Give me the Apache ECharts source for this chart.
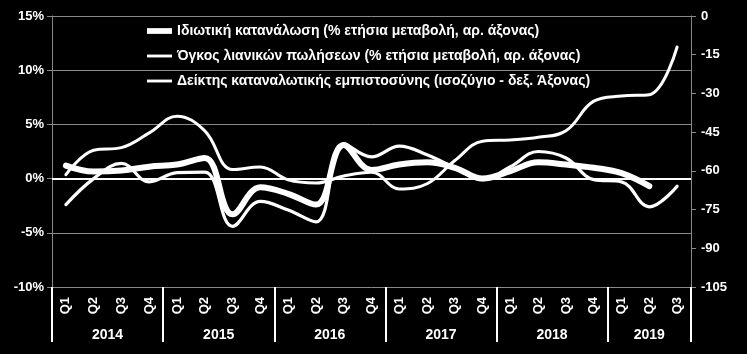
<!DOCTYPE html>
<html>
<head>
<meta charset="utf-8">
<script src="https://cdn.jsdelivr.net/npm/echarts@6/dist/echarts.min.js"></script>
<style>
  html, body { margin: 0; padding: 0; background: #000; }
  #chart { width: 747px; height: 354px; }
</style>
</head>
<body>
<div id="chart"></div>
<script>
// quarters on the x axis, years underneath
const quarterLabels = ['Q1','Q2','Q3','Q4','Q1','Q2','Q3','Q4','Q1','Q2','Q3','Q4',
                       'Q1','Q2','Q3','Q4','Q1','Q2','Q3','Q4','Q1','Q2','Q3'];
const yearLabels = ['2014','2015','2016','2017','2018','2019'];
const quartersPerYear = [4, 4, 4, 4, 4, 3];

// Ιδιωτική κατανάλωση (% ετήσια μεταβολή) - left axis
const consumption = [1.2, 0.65, 0.75, 1.1, 1.3, 1.9, -3.3, -0.8, -1.4, -2.4, 3.1, 0.8,
                     1.3, 1.5, 1.0, 0.0, 0.7, 1.5, 1.3, 1.0, 0.5, -0.7, null];
// Όγκος λιανικών πωλήσεων (% ετήσια μεταβολή) - left axis
const retailVolume = [-2.4, 0.0, 1.4, -0.3, 0.55, 0.6, -4.4, -2.1, -2.9, -4.0, 3.2, 2.0,
                      3.0, 2.2, 1.0, -0.1, 1.1, 2.5, 1.9, -0.1, -0.3, -2.6, -0.7];
// Δείκτης καταναλωτικής εμπιστοσύνης (ισοζύγιο) - right axis
const confidence = [-61.5, -52, -51, -45.3, -38.8, -44.5, -59.5, -58.5, -63.5, -64.7, -62, -60.5,
                    -67, -65, -56, -48.5, -48, -47, -44.5, -33, -31, -30.5, -12];

const leftTicks = { min: -10, max: 15, step: 5 };
const rightTicks = { min: -105, max: 0, step: 15 };

const seriesNames = [
  'Ιδιωτική κατανάλωση (% ετήσια μεταβολή, αρ. άξονας)',
  'Όγκος λιανικών πωλήσεων (% ετήσια μεταβολή, αρ. άξονας)',
  'Δείκτης καταναλωτικής εμπιστοσύνης (ισοζύγιο - δεξ. Άξονας)'
];

// year boundaries and year label centres, in quarter units
let yearBounds = [0];
let yearCentres = [];
for (let i = 0; i < quartersPerYear.length; i++) {
  let start = yearBounds[yearBounds.length - 1];
  yearCentres.push(start + quartersPerYear[i] / 2);
  yearBounds.push(start + quartersPerYear[i]);
}
const totalQuarters = yearBounds[yearBounds.length - 1];

const font = 'Arial, "Liberation Sans", sans-serif';
const grey = '#8a8a8a';
const gridBox = { left: 52, right: 56, top: 16, bottom: 67 };

let myChart = echarts.init(document.getElementById('chart'));
myChart.setOption({
  backgroundColor: '#000',
  animation: false,
  textStyle: { fontFamily: font },
  grid: [
    Object.assign({}, gridBox),
    Object.assign({}, gridBox)   // second grid only carries the year axis
  ],
  legend: {
    orient: 'vertical',
    left: 142,
    top: 19,
    itemWidth: 25,
    itemHeight: 14,
    itemGap: 11,
    data: [
      { name: seriesNames[0], icon: 'path://M0,0h26v6h-26z' },
      { name: seriesNames[1], icon: 'path://M0,0h26v3h-26z' },
      { name: seriesNames[2], icon: 'path://M0,0h26v3h-26z' }
    ],
    itemStyle: { color: '#fff' },
    textStyle: { color: '#fff', fontSize: 14, fontWeight: 'bold', fontFamily: font }
  },
  xAxis: [
    {
      type: 'category',
      gridIndex: 0,
      data: quarterLabels,
      boundaryGap: true,
      axisLine: { show: false },
      axisTick: { show: false },
      axisLabel: { rotate: 90, margin: 10, color: '#fff', fontSize: 13, fontWeight: 'bold', interval: 0 }
    },
    {
      type: 'value',
      gridIndex: 1,
      position: 'bottom',
      min: 0,
      max: totalQuarters,
      axisLine: { show: false },
      splitLine: { show: false },
      axisTick: {
        show: true,
        customValues: yearBounds,
        length: 55,
        lineStyle: { color: '#fff', width: 2 }
      },
      axisLabel: {
        customValues: yearCentres,
        margin: 41,
        color: '#fff',
        fontSize: 14,
        fontWeight: 'bold',
        formatter: function (v) {
          let idx = yearCentres.indexOf(v);
          return idx >= 0 ? yearLabels[idx] : '';
        }
      }
    }
  ],
  yAxis: [
    {
      type: 'value',
      gridIndex: 0,
      min: leftTicks.min,
      max: leftTicks.max,
      interval: leftTicks.step,
      axisLine: { show: true, lineStyle: { color: grey, width: 1 } },
      axisTick: { show: true, length: 5, lineStyle: { color: grey } },
      splitLine: { show: true, lineStyle: { color: grey, width: 1 } },
      axisLabel: { formatter: '{value}%', color: '#fff', fontSize: 13, fontWeight: 'bold', margin: 8 }
    },
    {
      type: 'value',
      gridIndex: 0,
      position: 'right',
      min: rightTicks.min,
      max: rightTicks.max,
      interval: rightTicks.step,
      axisLine: { show: true, lineStyle: { color: grey, width: 1 } },
      axisTick: { show: true, length: 5, lineStyle: { color: grey } },
      splitLine: { show: false },
      axisLabel: { color: '#fff', fontSize: 13, fontWeight: 'bold', margin: 10 }
    },
    {
      type: 'value',
      gridIndex: 1,
      show: false,
      min: 0,
      max: 1
    }
  ],
  series: [
    {
      name: seriesNames[0],
      type: 'line',
      xAxisIndex: 0,
      yAxisIndex: 0,
      data: consumption,
      smooth: 0.4,
      symbol: 'none',
      z: 4,
      lineStyle: { color: '#fff', width: 6, cap: 'round', join: 'round' },
      itemStyle: { color: '#fff' },
      markLine: {
        silent: true,
        symbol: 'none',
        label: { show: false },
        lineStyle: { color: '#fff', width: 2, type: 'solid' },
        data: [{ yAxis: 0 }]
      }
    },
    {
      name: seriesNames[1],
      type: 'line',
      xAxisIndex: 0,
      yAxisIndex: 0,
      data: retailVolume,
      smooth: 0.4,
      symbol: 'none',
      z: 3,
      lineStyle: { color: '#fff', width: 3.2, cap: 'round', join: 'round' },
      itemStyle: { color: '#fff' }
    },
    {
      name: seriesNames[2],
      type: 'line',
      xAxisIndex: 0,
      yAxisIndex: 1,
      data: confidence,
      smooth: 0.4,
      symbol: 'none',
      z: 3,
      lineStyle: { color: '#fff', width: 3, cap: 'round', join: 'round' },
      itemStyle: { color: '#fff' }
    }
  ]
});
</script>
</body>
</html>
